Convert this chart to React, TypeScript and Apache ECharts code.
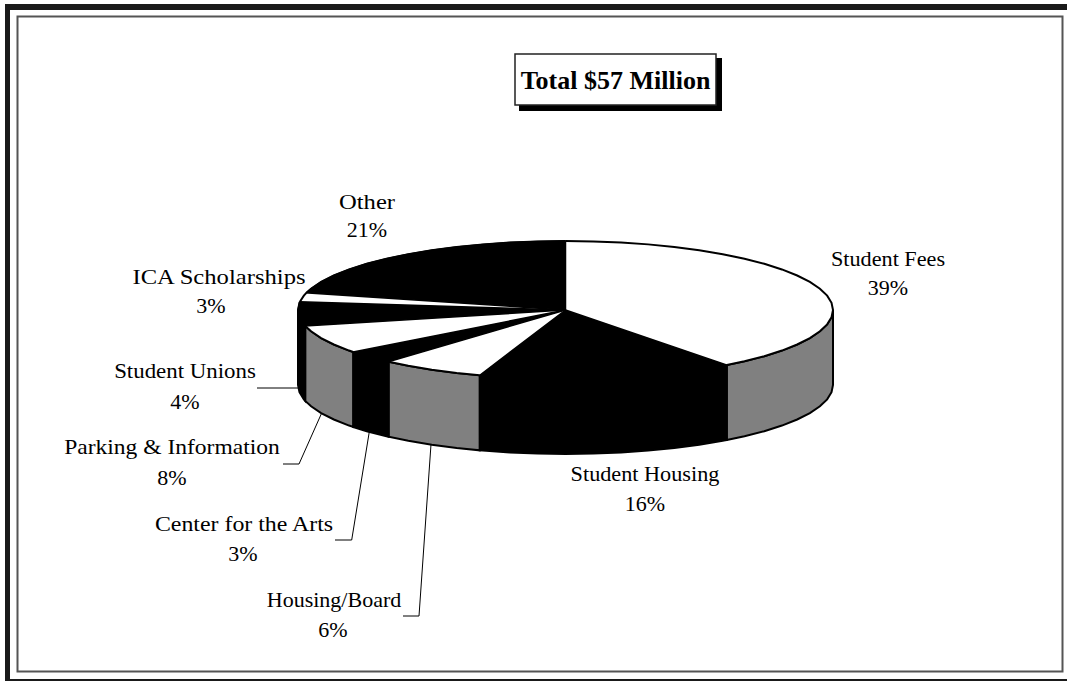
import React, { useEffect, useRef } from "react";
import * as echarts from "echarts";

const categories = ["Student Fees", "Student Housing", "Housing/Board", "Center for the Arts", "Parking & Information", "Student Unions", "ICA Scholarships", "Other"];
const percentLabels = ["39%", "16%", "6%", "3%", "8%", "4%", "3%", "21%"];
// Share of the circle each slice occupies as drawn in the picture.
const sliceShares = [39.7, 15.5, 6.3, 3.1, 6.7, 5.6, 2.1, 21.0];
const topColors = ["#ffffff", "#000000", "#ffffff", "#000000", "#ffffff", "#000000", "#ffffff", "#000000"];
const sideColors = ["#808080", "#000000", "#808080", "#000000", "#808080", "#000000", "#808080", "#000000"];

const CX = 565.5, CY = 310, RX = 267.5, RY = 69, DEPTH = 75, STEP = 6;
const SERIF = '"Liberation Serif", "Times New Roman", serif';

const labelPlaces = [
  { name: [888, 259], pct: [888, 287], stretch: 1.01 },
  { name: [645, 474], pct: [645, 503], stretch: 1.01 },
  { name: [334, 599], pct: [333, 629], stretch: 1.0 },
  { name: [244, 524], pct: [243, 553], stretch: 1.085 },
  { name: [172, 447], pct: [172, 477], stretch: 1.07 },
  { name: [185, 371], pct: [185, 401], stretch: 1.04 },
  { name: [219, 276], pct: [211, 305], stretch: 1.12 },
  { name: [367, 201], pct: [367, 229], stretch: 1.12 },
];

const leaderLines = [
  [[257, 388], [298, 388]],
  [[283, 464], [299, 464], [321.7, 413]],
  [[335, 540], [351.7, 540], [369.3, 431.7]],
  [[403, 616], [419, 616], [431, 444.3]],
];

function rimPoint(deg: number, drop = 0): number[] {
  const r = (deg * Math.PI) / 180;
  return [CX + RX * Math.sin(r), CY - RY * Math.cos(r) + drop];
}

function arcPoints(a: number, b: number, drop = 0): number[][] {
  const pts: number[][] = [];
  const first = Math.ceil(a / STEP) * STEP;
  pts.push(rimPoint(a, drop));
  for (let d = first; d < b; d += STEP) if (d > a) pts.push(rimPoint(d, drop));
  pts.push(rimPoint(b, drop));
  return pts;
}

function renderSlice(params: any, api: any) {
  const i = params.dataIndex;
  const total = sliceShares.reduce((s, v) => s + v, 0);
  const before = sliceShares.slice(0, i).reduce((s, v) => s + v, 0);
  const a = (before / total) * 360;
  const b = ((before + api.value(0)) / total) * 360;
  const rim = arcPoints(a, b);
  const children: any[] = [];
  const sa = Math.max(a, 90), sb = Math.min(b, 270);
  if (sb > sa) {
    const upper = arcPoints(sa, sb);
    const lower = arcPoints(sa, sb, DEPTH).reverse();
    children.push({
      type: "polygon",
      shape: { points: [...upper, ...lower] },
      style: { fill: sideColors[i], stroke: "#000", lineWidth: 2 },
    });
  }
  const black = topColors[i] === "#000000";
  children.push({
    type: "polygon",
    z2: black ? 2 : 1,
    shape: { points: [[CX, CY], ...rim] },
    style: { fill: topColors[i], stroke: black ? "#000" : null, lineWidth: 1.5 },
  });
  children.push({
    type: "polyline",
    z2: 3,
    shape: { points: rim },
    style: { fill: null, stroke: "#000", lineWidth: 2 },
  });
  return { type: "group", children };
}

function labelText(text: string, at: number[], stretch: number) {
  return {
    type: "text",
    x: at[0],
    y: at[1],
    scaleX: stretch,
    style: { text, fill: "#000", font: `22px ${SERIF}`, align: "center", verticalAlign: "middle" },
  };
}

export default function App() {
  const ref = useRef<HTMLDivElement>(null);
  useEffect(() => {
    const chart = echarts.init(ref.current!, null, { renderer: "svg" });
    const graphics: any[] = [
      { type: "rect", shape: { x: 5, y: 4, width: 1062, height: 6 }, style: { fill: "#1a1a1a" } },
      { type: "rect", shape: { x: 5, y: 4, width: 5, height: 677 }, style: { fill: "#1a1a1a" } },
      { type: "rect", shape: { x: 10, y: 679, width: 1057, height: 2 }, style: { fill: "#1a1a1a" } },
      { type: "rect", shape: { x: 17.5, y: 16.5, width: 1045, height: 655 }, style: { fill: "none", stroke: "#555", lineWidth: 2 } },
      { type: "rect", shape: { x: 519, y: 58, width: 203, height: 53 }, style: { fill: "#000" } },
      { type: "rect", shape: { x: 515, y: 54, width: 201, height: 51 }, style: { fill: "#fff", stroke: "#222", lineWidth: 1.5 } },
      { type: "text", x: 615.5, y: 80, style: { text: "Total $57 Million", fill: "#000", font: `bold 26px ${SERIF}`, align: "center", verticalAlign: "middle" } },
      ...leaderLines.map((points) => ({ type: "polyline", shape: { points }, style: { fill: null, stroke: "#000", lineWidth: 1 } })),
      ...categories.flatMap((name, i) => [labelText(name, labelPlaces[i].name, labelPlaces[i].stretch), labelText(percentLabels[i], labelPlaces[i].pct, 1)]),
    ];
    chart.setOption({
      animation: false,
      backgroundColor: "#fff",
      graphic: { elements: graphics },
      series: [
        {
          type: "custom",
          coordinateSystem: "none",
          silent: true,
          renderItem: renderSlice,
          data: sliceShares.map((v) => [v]),
        },
      ],
    });
    return () => chart.dispose();
  }, []);
  return <div ref={ref} style={{ position: "fixed", left: 0, top: 0, width: 1067, height: 681 }} />;
}
